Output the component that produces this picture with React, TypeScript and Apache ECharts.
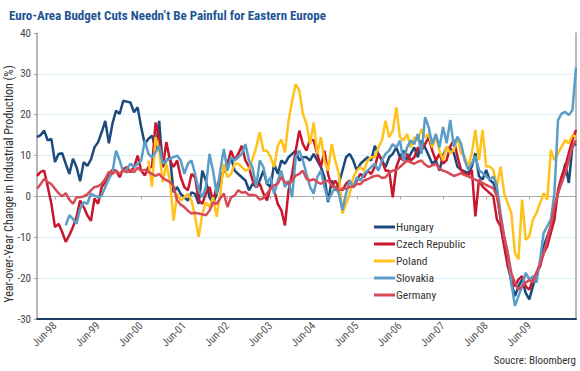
import React, { useEffect, useRef } from "react";
import * as echarts from "echarts";

const TITLE = "Euro-Area Budget Cuts Needn\u2019t Be Painful for Eastern Europe";
const Y_NAME = "Year-over-Year Change in Industrial Production (%)";
const SOURCE = "Soucre: Bloomberg";

const MONTHS = ["Jan", "Feb", "Mar", "Apr", "May", "Jun", "Jul", "Aug", "Sep", "Oct", "Nov", "Dec"];
const YEARS = ["98", "99", "00", "01", "02", "03", "04", "05", "06", "07", "08", "09", "10"];
const LAST_MONTH_2010 = 7; // Jan..Jul 2010
const X_TICKS = ["Jun-98", "Jun-99", "Jun-00", "Jun-01", "Jun-02", "Jun-03", "Jun-04", "Jun-05", "Jun-06", "Jun-07", "Jun-08", "Jun-09"];
const Y_MIN = -30;
const Y_MAX = 40;
const Y_STEP = 10;

const SERIES_NAMES = ["Hungary", "Czech Republic", "Poland", "Slovakia", "Germany"];
const COLORS = ["#1d4a7c", "#c8162f", "#ffc21a", "#5a9dc6", "#d64b57"];

// monthly values, Jan-98 .. Jul-10
const hungary = [
  14.5, 15, 16.1, 13.7, 14.1, 8.4, 10.4, 10.6, 8, 5.5, 9.2, 7.2,
  3.7, 8.4, 7.5, 9, 12, 13.3, 15.7, 18.5, 13, 17.8, 21, 20.2,
  23.4, 23.2, 23, 20.6, 21.8, 16.9, 12.8, 14.1, 14.9, 11.6, 18.5, 7.2,
  8.8, 9.6, 1, 2.3, 0.6, -0.2, -1, 1, 0.6, -1.8, 6.3, 3.9,
  -0.2, -1.8, 0.6, 3.9, 6.3, 7.2, 9.6, 6.3, 5.5, 4.7, 3.9, 1.5,
  3.1, 2.3, 3.9, 6.3, 3.1, 2.3, 8, 5.5, 8.8, 8, 9.6, 10.4,
  11.2, 8.8, 9.6, 9.6, 8.8, 10.4, 8.8, 7.2, 4.7, -1.4, 3.9, 1.5,
  3.1, 6.3, 9.6, 10.4, 8.8, 6.3, 8, 8.8, 9.6, 8.8, 12.4, 10.4,
  8.8, 7.2, 9.6, 10.4, 12, 9.6, 11.2, 8.8, 10.4, 12, 9.6, 13.7,
  12, 10, 8, 8.8, 6.3, 10, 12, 11.8, 10.6, 7.3, 6.5, 6.1,
  5.7, 7.3, 10.6, 4.9, 4.1, 6.5, 4, 3.3, 0.8, -5.7, -10.6, -15.4,
  -21.1, -24.4, -22, -20.3, -23.6, -25.2, -22, -18.7, -17, -12.2, -9.8, -7.3,
  -3.3, 0.8, 4.1, 8, 3.3, 12.2, 13,
];

const czech = [
  5, 6, 6.3, 2.3, -1.8, -7.5, -6.7, -8.7, -11.1, -9.5, -7.5, -5,
  -1, -2.6, -4.6, -6, -0.5, -1.8, 2.3, 3.5, 5.5, 6.5, 6.3, 4.7,
  6.7, 7.2, 5.9, 7.2, 10, 6.3, 5.1, 7.2, 7.2, 18.1, 14.3, 7.2,
  13.3, 8.8, 7.2, 8.8, 4.7, 2.3, 1.5, 5.5, 4.7, -1, -1.8, 0.7,
  2.3, -1, 2.3, 4.7, 6.3, 8, 11.2, 8.8, 10.4, 12.4, 8.8, 7.2,
  3.9, 2.3, 3.1, 0.7, -1, 2.3, 1.5, -1.8, -3.4, -7.1, 1.5, 5.5,
  11.2, 16.1, 12.8, 11.2, 14, 13.7, 10.4, 7.2, 11.2, 5.5, 2.3, 3.9,
  2.3, 1.5, 3.1, 3.9, 2.3, 3.9, 5.5, 4.7, 6.3, 5.5, 7.2, 10.4,
  8.8, 6.3, 6.3, -0.2, 7.2, 9.6, 8.8, 10.4, 8.8, 9.6, 12, 11.2,
  12.8, 14.5, 11.2, 8.8, 10.4, 8, 8.9, 12.2, 13.8, 9.8, 6.5, 5.7,
  4.9, 6.5, -4.9, 4.1, 2.4, 1.6, 0.8, 0, -5.7, -7.3, -12.2, -17.1,
  -20.3, -22, -20.3, -19.5, -22, -22.8, -20.3, -18.7, -17.1, -13.8, -12.2, -8.9,
  -5.7, 1.6, 4.9, 7.3, 10.6, 13.8, 16.3,
];

// Poland starts Aug-00
const POLAND_START = 31;
const poland = [
  8.8, 2.3, 14.5, 11.2, 3.5,
  8, 3.9, -5.9, 0.6, -1, -0.2, 0.6, -1, -5, -9.9, -4.2, -1.5,
  -2.6, -0.2, -5, 0.6, 8, 4.7, 5.5, 8, 8, 7.2, 6.3, 6.7,
  9.2, 12, 15.7, 11.2, 11.2, 9.6, 7.2, 12.4, 14, 10.8, 18.5, 23.4,
  27.5, 25.9, 20.2, 17.7, 12.8, 18.1, 10.4, 14.5, 8.8, 6.3, 12.8, 8.8,
  5.5, -4.2, -1.8, 0.6, 4.7, 6.3, 7.2, 6.3, 8.8, 9.6, 9.6, 12,
  13.7, 18.5, 14.5, 16.1, 21.8, 14.5, 13.7, 15.3, 12, 14.5, 13.7, 16.5,
  14.5, 15.3, 12, 14.5, 11.2, 8.8, 12.2, 10.6, 11.4, 14.6, 10.6, 9.8,
  7.3, 10.6, 16.3, 8.9, 16.3, 7.3, 7.3, 6.5, 2.4, 7.3, 0.8, -1.6,
  -4.1, -13.8, -15.4, -0.8, -10.6, -9.8, -5.7, -4.1, -1.6, 0.8, -0.8, 11.4,
  8.9, 10.6, 12.2, 13.8, 13, 15, 14.6,
];

// Slovakia starts Sep-98
const SLOVAKIA_START = 8;
const slovakia = [
  -7.1, -4.6, -5.5, -6.7,
  -3, -1.4, -1.8, 0.7, 0.2, -0.2, 0.2, 2.3, 4.3, 5.9, 11.2, 8.8,
  6, 6.7, 8, 7.2, 8, 8.8, 13.7, 10.4, 9.6, 10.8, 12.4, 8,
  8.8, 9.2, 9.6, 10, 8.8, 5.5, 8, 8.8, 5.5, 1.5, -0.2, 2.3,
  10.4, 6.3, 0.6, 6.3, 11.6, 6.3, 9.6, 8.8, 9.6, 10.4, 12.8, 8.8,
  7, 2.3, 8.8, 7.2, 3.1, 4.7, 0.6, 3.9, 6.3, 2.3, 3.9, -0.2,
  9.6, 11.2, 8.8, 5.5, 2.3, 0.7, 4.7, 6.3, 2.3, -1, 0.7, 2.3,
  0.7, -3.4, 0.7, 3.9, 2.3, 4.7, 3.9, 5.5, 6.3, 7.2, 8, 6.3,
  8.8, 10.4, 11.2, 12.8, 12, 13.7, 8.8, 12, 13.7, 12.8, 15.3, 10.4,
  19.4, 16.9, 12.8, 15.3, 12, 17, 13, 18.7, 12.2, 14.6, 13, 8.9,
  6.5, 8.1, 9.8, 6.5, 5.7, 4.9, 4.1, 4.9, 2.4, -4.1, -9.8, -13.8,
  -21.1, -26.8, -24.4, -22, -18.7, -20.3, -19.5, -21.1, -15.4, -8.9, -7.3, -5.7,
  0.8, 18.7, 20.3, 20.7, 19.9, 21.1, 31.5,
];

const germany = [
  1.9, 3, 4.3, 3.5, 3, 1.9, 0.8, 0, 0.8, -0.8, -1.8, -0.2,
  -0.2, 0, 0.5, 1.5, 2.3, 2.5, 3.1, 4.3, 6, 5.5, 6.3, 5.5,
  6.5, 5.9, 6.5, 5.9, 7, 6.3, 6.5, 6, 5.5, 5, 5.5, 4.5,
  4, 3.5, 2.5, -1, -2, -2.6, -3.5, -4.2, -4, -4.2, -4.4, -4.6,
  -3.5, -1.5, -1.8, -0.5, 0.7, -2.6, -0.2, 0.2, 1.5, 0.9, 1.1, 0.3,
  0.4, 0.2, -0.8, -0.4, 0.7, 1.9, 2.7, 3.1, 4.7, 3.5, 3.1, 3.9,
  5.1, 5.5, 6.3, 4.3, 3.9, 4.2, 3.5, 3.1, 3.6, 3.9, 2.8, 2.3,
  1.5, 1.9, 1.9, 2.4, 2.3, 3.1, 3, 3.9, 4.2, 4.7, 5, 5.1,
  4.5, 4.7, 5.8, 6.3, 6.5, 7.2, 8, 8.8, 8.3, 8, 8.5, 8.8,
  7.8, 7.2, 7.6, 8, 6.8, 6.3, 6, 5.5, 5, 5.3, 5.7, 5.2,
  4.9, 4.5, 4.1, 3.6, 3.3, 2.8, 2.4, 2, 0, -5, -9.8, -13.8,
  -18.7, -21.1, -22.8, -22, -21.1, -20.5, -21, -18.7, -16.5, -14, -10.5, -7,
  -2.4, 0.8, 3.3, 5.7, 8.9, 12.2, 13.8,
];

const FONT = "'Liberation Sans Narrow', 'Roboto Condensed', 'DejaVu Sans Condensed', 'Liberation Sans', sans-serif";

function buildCategories(): string[] {
  const cats: string[] = [];
  YEARS.forEach((yy, yi) => {
    const n = yi === YEARS.length - 1 ? LAST_MONTH_2010 : 12;
    for (let m = 0; m < n; m++) cats.push(`${MONTHS[m]}-${yy}`);
  });
  return cats;
}

function pad(values: number[], start: number): (number | null)[] {
  const out: (number | null)[] = [];
  for (let i = 0; i < start; i++) out.push(null);
  return out.concat(values);
}

export default function App() {
  const ref = useRef<HTMLDivElement>(null);
  useEffect(() => {
    if (!ref.current) return;
    const chart = echarts.init(ref.current, null, { renderer: "svg" });
    const categories = buildCategories();
    const dataSets = [hungary, czech, pad(poland, POLAND_START), pad(slovakia, SLOVAKIA_START), germany];
    const isTick = (idx: number, val?: string) => X_TICKS.indexOf(val ?? categories[idx]) >= 0;

    chart.setOption({
      animation: false,
      backgroundColor: "#ffffff",
      title: {
        text: TITLE,
        left: 4,
        top: 4,
        textStyle: { fontSize: 13, fontWeight: "bold", color: "#1e5594", fontFamily: FONT },
      },
      legend: {
        orient: "vertical",
        left: 369,
        top: 216,
        icon: "rect",
        itemWidth: 21,
        itemHeight: 3,
        itemGap: 5,
        data: SERIES_NAMES,
        textStyle: { fontSize: 11.5, color: "#333", fontFamily: FONT, padding: [0, 0, 0, -4] },
      },
      grid: { left: 37, right: 4, top: 33, bottom: 52, containLabel: false },
      xAxis: [
        {
          type: "category",
          position: "bottom",
          data: categories,
          boundaryGap: false,
          axisLine: { show: true, onZero: false, lineStyle: { color: "#1f3e66", width: 2 } },
          axisTick: { show: false },
          splitLine: { show: false },
          axisLabel: {
            interval: (idx: number, val: string) => isTick(idx, val),
            rotate: 45,
            fontSize: 11,
            color: "#555",
            fontFamily: FONT,
            margin: 5,
          },
        },
        {
          type: "category",
          position: "bottom",
          data: categories,
          boundaryGap: false,
          axisLine: { show: true, onZero: true, lineStyle: { color: "#a8a8a8", width: 1 } },
          axisTick: {
            show: true,
            interval: (idx: number, val: string) => isTick(idx, val),
            length: 3,
            lineStyle: { color: "#a8a8a8" },
          },
          axisLabel: { show: false },
          splitLine: { show: false },
        },
      ],
      yAxis: [
        {
          type: "value",
          position: "left",
          min: Y_MIN,
          max: Y_MAX,
          interval: Y_STEP,
          axisLine: { show: true, lineStyle: { color: "#a0a0a0", width: 1.5 } },
          axisTick: { show: true, length: 3, lineStyle: { color: "#a0a0a0" } },
          axisLabel: { fontSize: 11, color: "#444", fontFamily: FONT, margin: 6 },
          splitLine: { show: true, showMinLine: false, showMaxLine: false, lineStyle: { color: "#dcf0fa", width: 1 } },
        },
        {
          type: "value",
          position: "right",
          min: Y_MIN,
          max: Y_MAX,
          interval: Y_STEP,
          axisLine: { show: true, lineStyle: { color: "#a0a0a0", width: 1.5 } },
          axisTick: { show: false },
          axisLabel: { show: false },
          splitLine: { show: false },
        },
      ],
      graphic: [
        {
          type: "text",
          x: 9,
          y: 184,
          rotation: Math.PI / 2,
          style: {
            text: Y_NAME,
            fontSize: 12,
            fill: "#333",
            fontFamily: FONT,
            align: "center",
            verticalAlign: "middle",
          },
        },
        {
          type: "text",
          right: 4,
          top: 355,
          style: { text: SOURCE, fontSize: 11, fill: "#333", fontFamily: FONT },
        },
      ],
      series: SERIES_NAMES.map((name, i) => ({
        name,
        type: "line",
        xAxisIndex: 0,
        yAxisIndex: 0,
        data: dataSets[i],
        symbol: "none",
        connectNulls: false,
        color: COLORS[i],
        lineStyle: { width: 2.5, color: COLORS[i] },
        emphasis: { disabled: true },
      })),
    });
    return () => chart.dispose();
  }, []);

  return (
    <div
      ref={ref}
      style={{ position: "absolute", left: 0, top: 0, width: 580, height: 371 }}
    />
  );
}
